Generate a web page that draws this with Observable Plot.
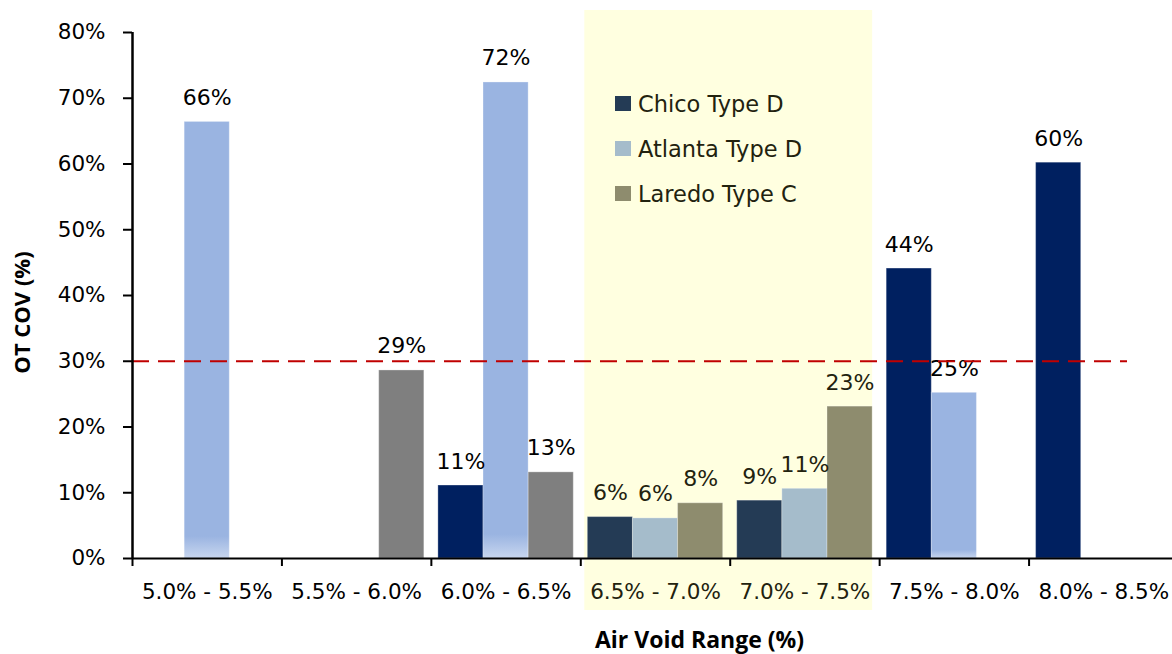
<!DOCTYPE html>
<html>
<head>
<meta charset="utf-8">
<script src="https://cdn.jsdelivr.net/npm/d3@7"></script>
<script src="https://cdn.jsdelivr.net/npm/@observablehq/plot@0.6"></script>
<style>
  html, body { margin: 0; padding: 0; background: #fff; overflow: hidden; }
  #wrap { position: relative; width: 1172px; height: 654px; overflow: hidden; }
  #wrap svg { overflow: hidden; }
  #legend { position: absolute; left: 615px; top: 81px; font-family: "DejaVu Sans", sans-serif; font-size: 22.5px; color: #22220f; }
  #legend .row { display: flex; align-items: center; height: 45px; }
  #legend .sw { width: 16px; height: 15px; margin-right: 7px; }
</style>
</head>
<body>
<div id="wrap"><div id="legend"></div></div>
<script>
// ---- data ----
const categories = ["5.0% - 5.5%", "5.5% - 6.0%", "6.0% - 6.5%", "6.5% - 7.0%", "7.0% - 7.5%", "7.5% - 8.0%", "8.0% - 8.5%"];
const seriesNames = ["Chico Type D", "Atlanta Type D", "Laredo Type C"];
const chicoTypeD   = [null, null, 11.1, 6.3, 8.8, 44.1, 60.2];
const atlantaTypeD = [66.4, null, 72.4, 6.1, 10.6, 25.2, null];
const laredoTypeC  = [null, 28.6, 13.1, 8.4, 23.1, null, null];
const highlighted = ["6.5% - 7.0%", "7.0% - 7.5%"];
const threshold = 30;
const yTicks = [0, 10, 20, 30, 40, 50, 60, 70, 80];

// ---- styles ----
const baseColors = ["#002060", "url(#atlantaFade)", "#7f7f7f"];
const highlightColors = ["#243b55", "#a5bccb", "#8e8c6e"];
const olive = "#22220f";
const barW = 0.302;
const pad = (1 - 3 * barW) / 2;

const seriesValues = [chicoTypeD, atlantaTypeD, laredoTypeC];
const rows = categories.flatMap((cat, i) =>
  seriesValues.map((vals, j) => ({
    cat, i, j, series: seriesNames[j], value: vals[i], hl: highlighted.includes(cat)
  })).filter(d => d.value != null)
);
rows.forEach(d => { d.fill = d.hl ? highlightColors[d.j] : baseColors[d.j]; });

const hlIdx = highlighted.map(c => categories.indexOf(c));
const normalCenters = categories.map((c, i) => i).filter(i => !hlIdx.includes(i)).map(i => i + 0.5);
const hlCenters = hlIdx.map(i => i + 0.5);

const chart = Plot.plot({
  width: 1172,
  height: 654,
  marginLeft: 132,
  marginRight: -6,
  marginTop: 32,
  marginBottom: 96,
  style: { fontFamily: "DejaVu Sans, sans-serif", fontSize: "21px", background: "white", color: "black", overflow: "hidden" },
  x: { type: "linear", domain: [0, categories.length] },
  y: { domain: [0, 80] },
  color: { type: "identity" },
  marks: [
    Plot.rect([highlighted], {
      x1: h => categories.indexOf(h[0]),
      x2: h => categories.indexOf(h[h.length - 1]) + 1,
      insetLeft: 4, insetRight: 7, insetTop: -22, insetBottom: -52,
      fill: "#ffffe0"
    }),
    Plot.rect(rows, {
      x1: d => d.i + pad + d.j * barW,
      x2: d => d.i + pad + (d.j + 1) * barW,
      y1: 0,
      y2: "value",
      fill: "fill",
      stroke: "white",
      strokeOpacity: 0.3,
      strokeWidth: 1
    }),
    Plot.text(rows, {
      x: d => d.i + pad + (d.j + 0.5) * barW,
      y: "value",
      text: d => Math.round(d.value) + "%",
      lineAnchor: "bottom",
      dy: -17,
      fontSize: 22,
      fill: d => d.hl ? olive : "black"
    }),
    Plot.ruleY([threshold], {
      stroke: "#c00000", strokeWidth: 2, strokeDasharray: "17,9", insetRight: 51
    }),
    Plot.ruleY([0], { stroke: "black", strokeWidth: 2 }),
    Plot.ruleX([0], { stroke: "black", strokeWidth: 2.5 }),
    Plot.axisY({
      ticks: yTicks, tickFormat: d => d + "%", tickSize: 9, tickPadding: 18,
      strokeWidth: 2, fontSize: 21.5, label: null
    }),
    Plot.axisX({
      ticks: d3.range(0, categories.length + 1), tickFormat: () => "", tickSize: 8,
      strokeWidth: 2, label: null
    }),
    Plot.axisX({
      ticks: normalCenters, tickFormat: d => categories[Math.floor(d)],
      tickSize: 0, tickPadding: 25, fontSize: 21.5, label: null
    }),
    Plot.axisX({
      ticks: hlCenters, tickFormat: d => categories[Math.floor(d)],
      tickSize: 0, tickPadding: 25, fontSize: 21.5, fill: olive, label: null
    }),
    Plot.text(["OT COV (%)"], {
      frameAnchor: "left", textAnchor: "middle", lineAnchor: "middle", rotate: -90, dx: -110, dy: 17,
      fontFamily: "Open Sans", fontWeight: "bold", fontSize: 22, fill: "black"
    }),
    Plot.text(["Air Void Range (%)"], {
      frameAnchor: "bottom", textAnchor: "middle", lineAnchor: "middle", dx: 44, dy: 82,
      fontFamily: "Open Sans", fontWeight: "bold", fontSize: 23, fill: "black"
    })
  ]
});

// gradient fade at the bottom of the light-blue bars
const defs = d3.select(chart).insert("defs", ":first-child");
const grad = defs.append("linearGradient").attr("id", "atlantaFade")
  .attr("x1", 0).attr("y1", 0).attr("x2", 0).attr("y2", 1);
grad.append("stop").attr("offset", "0.95").attr("stop-color", "#9ab4e1");
grad.append("stop").attr("offset", "1").attr("stop-color", "#c8d6ef");

const wrap = document.getElementById("wrap");
wrap.insertBefore(chart, wrap.firstChild);

// legend (highlight colours)
const legend = d3.select("#legend");
seriesNames.forEach((name, j) => {
  const row = legend.append("div").attr("class", "row");
  row.append("div").attr("class", "sw").style("background", highlightColors[j]);
  row.append("span").text(name);
});
</script>
</body>
</html>
